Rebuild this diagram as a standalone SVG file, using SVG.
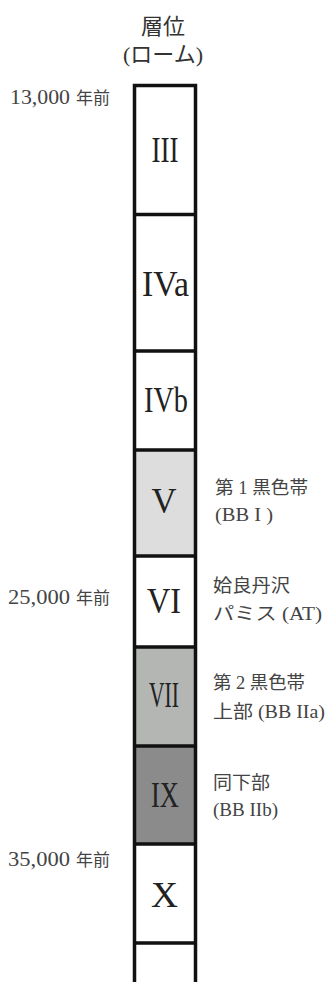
<svg xmlns="http://www.w3.org/2000/svg" width="329" height="982" viewBox="0 0 329 982">
  <style>
    .num { font-family: "Liberation Serif", "DejaVu Serif", serif; font-size: 35px; fill: #222; text-anchor: middle; }
    .lbl { font-family: "Liberation Serif", "Noto Sans CJK JP", serif; font-size: 18px; fill: #444; }
    .age { font-family: "Liberation Serif", "Noto Sans CJK JP", serif; font-size: 20px; fill: #444; }
    .agej { font-family: "Noto Sans CJK JP", sans-serif; font-size: 17px; fill: #444; }
    .hdr { font-family: "Liberation Serif", "Noto Sans CJK JP", serif; font-size: 22px; fill: #333; text-anchor: middle; }
    .ln { stroke: #111; stroke-width: 3.5; fill: none; }
  </style>
  <rect x="0" y="0" width="329" height="982" fill="#fff"/>

  <g id="header">
    <text class="hdr" x="163" y="34">層位</text>
    <text class="hdr" x="163" y="62">(ローム)</text>
  </g>

  <g id="ages">
    <text class="age" x="10" y="104" textLength="60" lengthAdjust="spacingAndGlyphs">13,000</text>
    <text class="agej" x="76" y="104">年前</text>
    <text class="age" x="8" y="604" textLength="62" lengthAdjust="spacingAndGlyphs">25,000</text>
    <text class="agej" x="76" y="604">年前</text>
    <text class="age" x="8" y="866" textLength="62" lengthAdjust="spacingAndGlyphs">35,000</text>
    <text class="agej" x="76" y="866">年前</text>
  </g>

  <g id="layer-III">
    <text class="num" x="165" y="162" textLength="27" lengthAdjust="spacingAndGlyphs">III</text>
  </g>
  <g id="layer-IVa">
    <text class="num" x="165.5" y="296" textLength="47" lengthAdjust="spacingAndGlyphs">IVa</text>
  </g>
  <g id="layer-IVb">
    <text class="num" x="166" y="412" textLength="44" lengthAdjust="spacingAndGlyphs">IVb</text>
  </g>
  <g id="layer-V">
    <rect x="134.5" y="450" width="61" height="106" fill="#dcdddc"/>
    <text class="num" x="164" y="513" textLength="25" lengthAdjust="spacingAndGlyphs">V</text>
    <text class="lbl" x="215" y="494" textLength="93" lengthAdjust="spacingAndGlyphs">第 1 黒色帯</text>
    <text class="lbl" x="215" y="521" textLength="58" lengthAdjust="spacingAndGlyphs">(BB I )</text>
  </g>
  <g id="layer-VI">
    <text class="num" x="164" y="613" textLength="34" lengthAdjust="spacingAndGlyphs">VI</text>
    <text class="lbl" x="213" y="592" textLength="77" lengthAdjust="spacingAndGlyphs">姶良丹沢</text>
    <text class="lbl" x="213" y="620" textLength="109" lengthAdjust="spacingAndGlyphs">パミス (AT)</text>
  </g>
  <g id="layer-VII">
    <rect x="134.5" y="647" width="61" height="99" fill="#b4b6b4"/>
    <text class="num" x="164" y="707" textLength="30" lengthAdjust="spacingAndGlyphs">VII</text>
    <text class="lbl" x="213" y="689" textLength="92" lengthAdjust="spacingAndGlyphs">第 2 黒色帯</text>
    <text class="lbl" x="213" y="718" textLength="112" lengthAdjust="spacingAndGlyphs">上部 (BB IIa)</text>
  </g>
  <g id="layer-IX">
    <rect x="134.5" y="746" width="61" height="98" fill="#8b8b8b"/>
    <text class="num" x="165" y="807" textLength="28" lengthAdjust="spacingAndGlyphs">IX</text>
    <text class="lbl" x="213" y="789" textLength="57" lengthAdjust="spacingAndGlyphs">同下部</text>
    <text class="lbl" x="213" y="816" textLength="65" lengthAdjust="spacingAndGlyphs">(BB IIb)</text>
  </g>
  <g id="layer-X">
    <text class="num" x="164.5" y="907" textLength="27" lengthAdjust="spacingAndGlyphs">X</text>
  </g>

  <g id="outline">
    <path class="ln" d="M134.5 982 V85.5 H195.5 V982"/>
    <path class="ln" d="M134.5 214.5 H195.5 M134.5 351 H195.5 M134.5 450 H195.5 M134.5 556 H195.5 M134.5 647 H195.5 M134.5 746 H195.5 M134.5 844 H195.5 M134.5 943 H195.5"/>
  </g>
</svg>
